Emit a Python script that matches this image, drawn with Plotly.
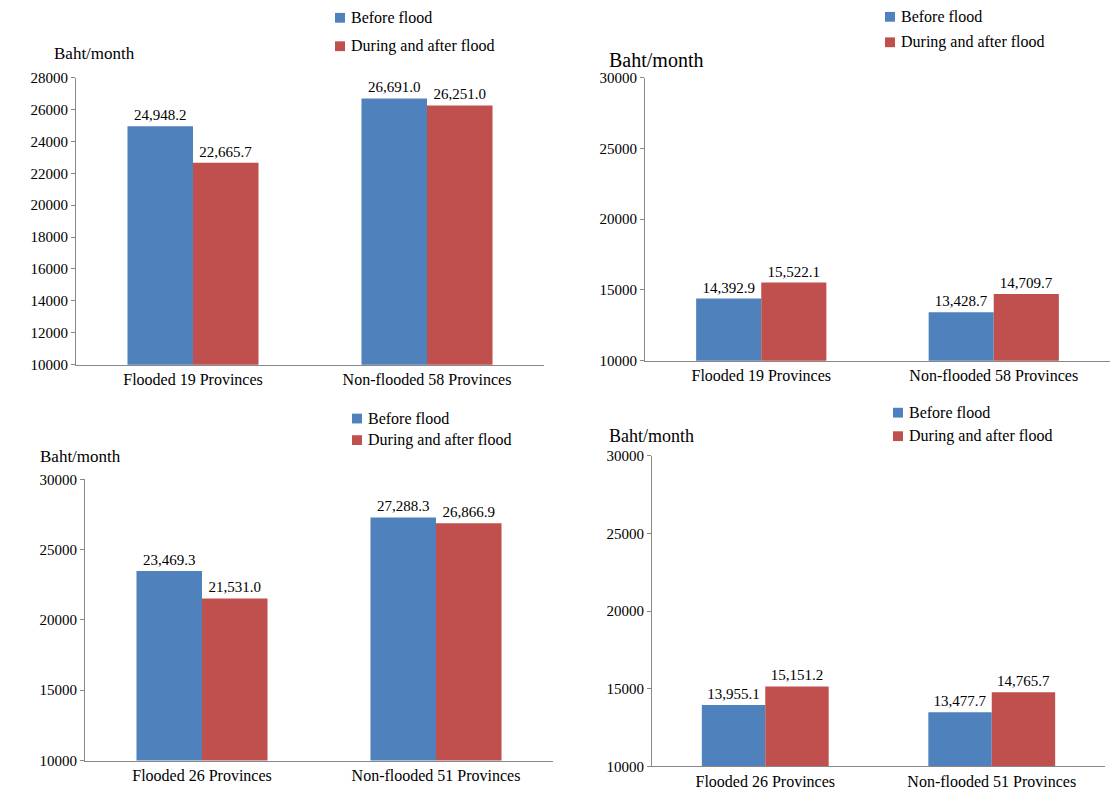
import plotly.graph_objects as go

W, H = 1114, 793
series = ["Before flood", "During and after flood"]
colors = ["#4F81BD", "#C0504D"]

cats_a = ["Flooded 19 Provinces", "Non-flooded 58 Provinces"]
cats_b = ["Flooded 26 Provinces", "Non-flooded 51 Provinces"]
tl_before = [24948.2, 26691.0]
tl_after = [22665.7, 26251.0]
tr_before = [14392.9, 13428.7]
tr_after = [15522.1, 14709.7]
bl_before = [23469.3, 27288.3]
bl_after = [21531.0, 26866.9]
br_before = [13955.1, 13477.7]
br_after = [15151.2, 14765.7]

panels = [
    (cats_a, tl_before, tl_after, (76, 544, 71, 364), (10000, 28000), 2000, (335, 10, 39), (52, 46, 17)),
    (cats_a, tr_before, tr_after, (645, 1110, 71, 360), (10000, 30000), 5000, (885, 9, 35), (607, 53, 20)),
    (cats_b, bl_before, bl_after, (85, 553, 481, 768), (10000, 30000), 5000, (352, 419, 441), (38, 458, 17)),
    (cats_b, br_before, br_after, (652, 1105, 457, 774), (10000, 30000), 5000, (893, 413, 437), (607, 437, 18)),
]

fig = go.Figure()
shapes, annots = [], []
font = dict(family="Liberation Serif", color="black")
for i, (cats, b, a, box, yr, dt, leg, ttl) in enumerate(panels):
    n = "" if i == 0 else str(i + 1)
    x0, x1, yt, yb = box
    for vals, nm, c in [(b, series[0], colors[0]), (a, series[1], colors[1])]:
        fig.add_trace(go.Bar(x=cats, y=vals, name=nm, marker_color=c, marker_line_width=0,
                             xaxis="x" + n, yaxis="y" + n,
                             text=[f"{v:,.1f}" for v in vals], textposition="outside",
                             textfont=dict(family="Liberation Serif", size=15, color="black"),
                             cliponaxis=False, showlegend=False))
    fig.layout["xaxis" + n] = dict(domain=[x0 / W, x1 / W], anchor="y" + n, showline=True, linecolor="#888",
                                   tickfont=dict(size=16, **font), ticks="", showgrid=False)
    fig.layout["yaxis" + n] = dict(domain=[1 - yb / H, 1 - yt / H], anchor="x" + n, range=list(yr), dtick=dt,
                                   tickformat="d",
                                   showline=True, linecolor="#888", ticks="outside", ticklen=4, tickcolor="#888",
                                   showgrid=False, tickfont=dict(size=15, **font))
    lx, ly1, ly2 = leg
    for ly, nm, c in [(ly1, series[0], colors[0]), (ly2, series[1], colors[1])]:
        shapes.append(dict(type="rect", xref="paper", yref="paper", x0=lx / W, x1=(lx + 10) / W,
                           y0=1 - (ly + 5) / H, y1=1 - (ly - 5) / H, fillcolor=c, line_width=0))
        annots.append(dict(x=(lx + 14) / W, y=1 - ly / H, xref="paper", yref="paper", text=nm, showarrow=False,
                           xanchor="left", yanchor="middle", font=dict(size=16, **font)))
    tx, ty, ts = ttl
    annots.append(dict(x=tx / W, y=1 - ty / H, xref="paper", yref="paper", text="Baht/month", showarrow=False,
                       xanchor="left", yanchor="middle", font=dict(size=ts, **font)))

fig.update_layout(width=W, height=H, margin=dict(l=0, r=0, t=0, b=0), barmode="group", bargap=0.44,
                  bargroupgap=0, plot_bgcolor="white", paper_bgcolor="white", shapes=shapes, annotations=annots)
fig.write_html("out.html", config={"displayModeBar": False},
               post_script="document.body.style.margin='0';document.body.style.overflow='hidden';")
